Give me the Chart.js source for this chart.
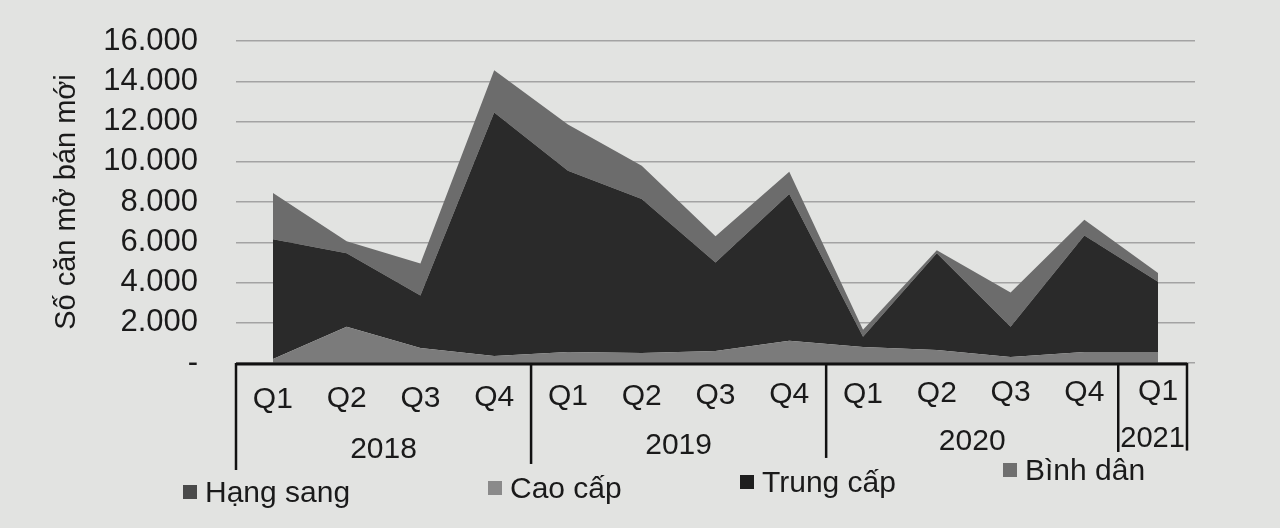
<!DOCTYPE html>
<html>
<head>
<meta charset="utf-8">
<script src="https://cdn.jsdelivr.net/npm/chart.js@4/dist/chart.umd.min.js"></script>
<style>
  html, body { margin:0; padding:0; background:#e2e3e1; }
  #wrap { position:relative; width:1280px; height:528px; }
  canvas { position:absolute; left:0; top:0; }
  .leg { position:absolute; font-family:"Liberation Sans", Arial, sans-serif; font-size:30px; color:#1a1a1a; white-space:nowrap; line-height:36px; }
  .leg i { display:inline-block; width:14px; height:14px; margin-right:8px; vertical-align:middle; position:relative; top:-2px; }
</style>
</head>
<body>
<div id="wrap">
  <canvas id="c" width="1280" height="528"></canvas>
</div>
<script>
// ---- data ----
const quarters = ['Q1','Q2','Q3','Q4','Q1','Q2','Q3','Q4','Q1','Q2','Q3','Q4','Q1'];
const years = ['2018','2019','2020','2021'];
const yearSpans = [4, 4, 4, 1];
const yTicks = [0, 2000, 4000, 6000, 8000, 10000, 12000, 14000, 16000];
const hangSang = [0, 0, 0, 0, 0, 0, 0, 0, 0, 0, 0, 0, 0];
const caoCap   = [200, 1800, 750, 350, 550, 500, 600, 1100, 800, 650, 300, 550, 550];
const trungCap = [5950, 3650, 2600, 12100, 9000, 7650, 4400, 7300, 500, 4800, 1500, 5780, 3480];
const binhDan  = [2300, 600, 1600, 2100, 2300, 1650, 1300, 1100, 350, 150, 1700, 790, 440];
const seriesNames = ['Hạng sang', 'Cao cấp', 'Trung cấp', 'Bình dân'];
const fillColors = ['#4a4a4a', '#7b7b7b', '#2a2a2a', '#6c6c6c'];
const legendColors = ['#4a4a4a', '#8a8a8a', '#1e1e1e', '#6f6f6f'];

const FONT = '"Liberation Sans", Arial, sans-serif';
const TXT = '#1a1a1a';

const groupAxis = {
  id: 'groupAxis',
  afterDraw(chart) {
    const ctx = chart.ctx;
    const x = chart.scales.x, a = chart.chartArea;
    const step = x.getPixelForValue(1) - x.getPixelForValue(0);
    const tilt = px => -(px - a.left) / (a.right - a.left) * 14;
    ctx.save();
    ctx.strokeStyle = '#111';
    ctx.lineWidth = 3;
    ctx.beginPath();
    ctx.moveTo(a.left, a.bottom + 1);
    ctx.lineTo(a.right - 8, a.bottom + 1);
    ctx.stroke();
    ctx.lineWidth = 2.5;
    let idx = 0;
    const bounds = [x.getPixelForValue(0) - step / 2];
    yearSpans.forEach(s => { idx += s; bounds.push(x.getPixelForValue(idx - 1) + step / 2); });
    bounds[bounds.length - 1] = a.right - 8;
    bounds[bounds.length - 2] -= 3;
    bounds.forEach(bx => {
      ctx.beginPath();
      ctx.moveTo(bx, a.bottom);
      ctx.lineTo(bx, 470 + tilt(bx) * 1.4);
      ctx.stroke();
    });
    ctx.fillStyle = TXT;
    ctx.font = '30px ' + FONT;
    ctx.textAlign = 'center';
    ctx.textBaseline = 'middle';
    quarters.forEach((q, i) => {
      const px = x.getPixelForValue(i);
      ctx.fillText(q, px, 400 + tilt(px) * 0.6);
    });
    years.forEach((y, i) => {
      const px = (bounds[i] + bounds[i + 1]) / 2;
      const w = bounds[i + 1] - bounds[i] - 4;
      ctx.fillText(y, px, 452 + tilt(px), w);
    });
    ctx.restore();
  }
};

const data = [hangSang, caoCap, trungCap, binhDan];
new Chart(document.getElementById('c'), {
  type: 'line',
  data: {
    labels: quarters.slice(),
    datasets: data.map((d, i) => ({
      label: seriesNames[i],
      data: d,
      backgroundColor: fillColors[i],
      borderColor: fillColors[i],
      borderWidth: 0,
      pointRadius: 0,
      tension: 0,
      fill: i === 0 ? 'origin' : '-1'
    }))
  },
  options: {
    responsive: false,
    animation: false,
    events: [],
    layout: { padding: { left: 50, right: 85, top: 41, bottom: 165 } },
    plugins: { legend: { display: false }, tooltip: { enabled: false } },
    scales: {
      x: {
        offset: true,
        ticks: { display: false },
        grid: { display: false },
        border: { display: false },
        afterFit(scale) { scale.height = 0; }
      },
      y: {
        stacked: true,
        min: 0, max: 16000,
        afterBuildTicks(scale) { scale.ticks = yTicks.map(v => ({ value: v })); },
        afterFit(scale) { scale.width = 186; scale.paddingTop = 0; scale.paddingBottom = 0; },
        ticks: {
          padding: 38,
          color: TXT,
          font: { family: FONT, size: 31 },
          callback: v => v === 0 ? '-' : v.toLocaleString('de-DE')
        },
        grid: { color: '#a3a3a3', lineWidth: 1.5, drawTicks: false },
        border: { display: false },
        title: {
          display: true,
          text: 'Số căn mở bán mới',
          color: TXT,
          font: { family: FONT, size: 29 },
          padding: { top: 0, bottom: 0 }
        }
      }
    }
  },
  plugins: [groupAxis]
});

// legend (HTML, real text)
const legPos = [[183, 474], [488, 470], [740, 464], [1003, 452]];
const wrap = document.getElementById('wrap');
seriesNames.forEach((n, i) => {
  const d = document.createElement('div');
  d.className = 'leg';
  d.style.left = legPos[i][0] + 'px';
  d.style.top = legPos[i][1] + 'px';
  d.innerHTML = '<i style="background:' + legendColors[i] + '"></i>' + n;
  wrap.appendChild(d);
});
</script>
</body>
</html>
